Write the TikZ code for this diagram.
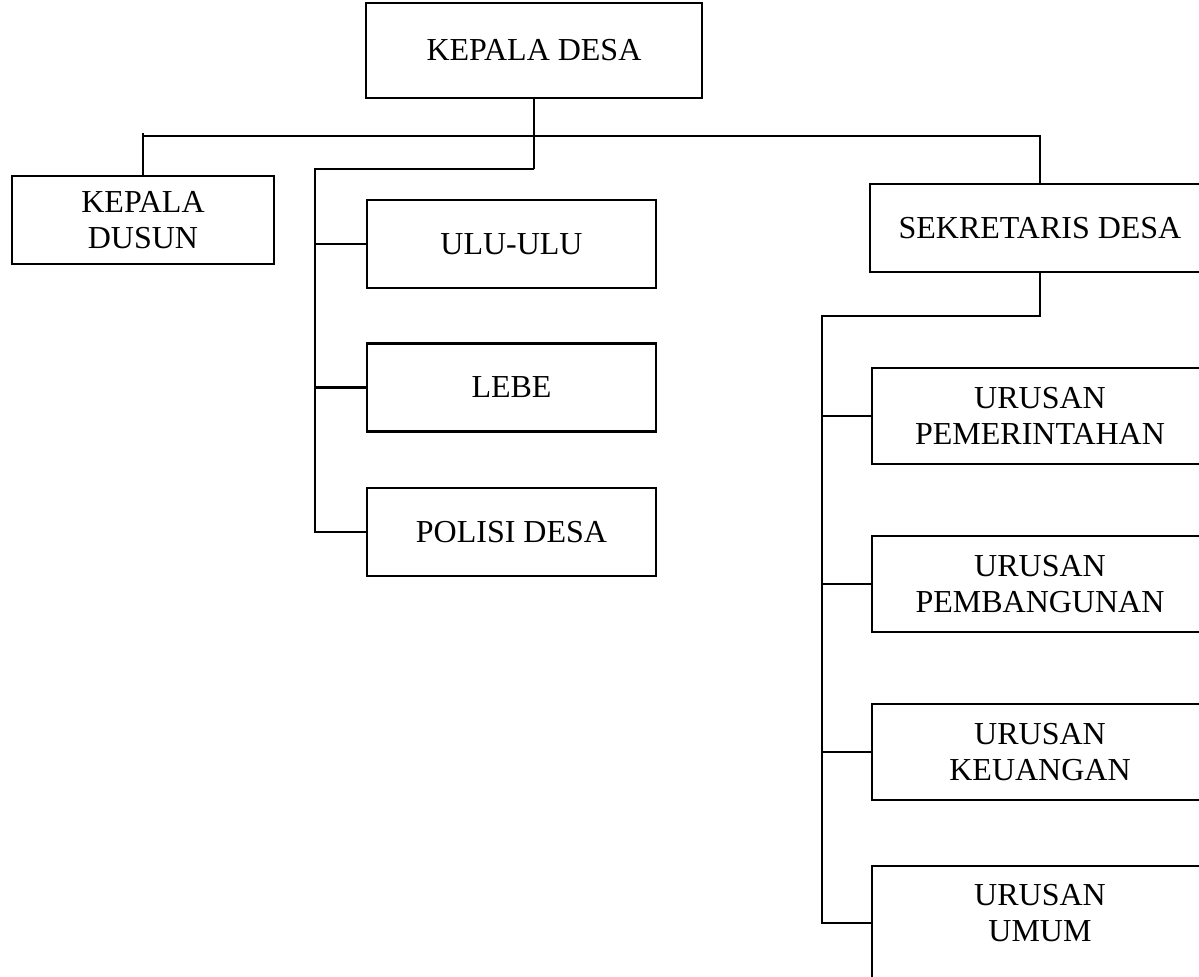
\documentclass[tikz,border=0pt]{standalone}
\usepackage{fontspec}
\setmainfont{Liberation Serif}
\usepackage{tikz}
\usetikzlibrary{positioning}
\tikzset{
  office/.style={draw, rectangle, line width=0.8pt, align=center, inner sep=2pt, font=\fontsize{12}{13.5}\selectfont},
  unit/.style={office, minimum width=108.4pt, minimum height=33pt},
  urusan/.style={office, minimum width=126pt, minimum height=36pt},
  link/.style={line width=0.8pt}
}

\begin{document}
\begin{tikzpicture}[x=0.375pt, y=-0.375pt]
    \useasboundingbox (0,0) rectangle (1199,977);
    \clip (0,0) rectangle (1199,977);

    \node[office, minimum width=126pt, minimum height=35.6pt] (kades) at (534,50.5) {KEPALA DESA};
    \node[office, minimum width=98.25pt, minimum height=33pt] (dusun) at (143,220) {KEPALA\\DUSUN};

    \node[unit] (ulu) at (511.5,244) {ULU-ULU};
    \node[unit] (lebe) at (511.5,387.5) {LEBE};
    \node[unit] (polisi) at (511.5,532) {POLISI DESA};

    \node[office, minimum width=127.5pt, minimum height=33pt] (sekdes) at (1040,228) {SEKRETARIS DESA};
    \node[urusan] (pemerintahan) at (1040,416) {URUSAN\\PEMERINTAHAN};
    \node[urusan] (pembangunan) at (1040,584) {URUSAN\\PEMBANGUNAN};
    \node[urusan] (keuangan) at (1040,752) {URUSAN\\KEUANGAN};
    \node[urusan, minimum height=42.75pt, inner sep=0pt] (umum) at (1040,923)
        {\parbox[c][42.75pt][t]{120pt}{\centering\vspace*{6.75pt}URUSAN\\UMUM}};

    \coordinate (bus) at (534,136);
    \coordinate (lspine) at (315,169);
    \coordinate (rspine) at (822,316);

    % top level
    \draw[link] (kades.south) -- (kades.south |- lspine);
    \draw[link] ([yshift=1pt]dusun.north |- bus) -- (dusun.north);
    \draw[link] (dusun.north |- bus) -- (sekdes.north |- bus) -- (sekdes.north);

    % left branch
    \draw[link] (kades.south |- lspine) -- (lspine) -- (lspine |- polisi.west) -- (polisi.west);
    \draw[link] (lspine |- ulu.west) -- (ulu.west);
    \draw[link] (lspine |- lebe.west) -- (lebe.west);

    % right branch
    \draw[link] (sekdes.south) -- (sekdes.south |- rspine) -- (rspine) -- (rspine |- umum.west) -- (umum.west);
    \draw[link] (rspine |- pemerintahan.west) -- (pemerintahan.west);
    \draw[link] (rspine |- pembangunan.west) -- (pembangunan.west);
    \draw[link] (rspine |- keuangan.west) -- (keuangan.west);
\end{tikzpicture}
\end{document}
